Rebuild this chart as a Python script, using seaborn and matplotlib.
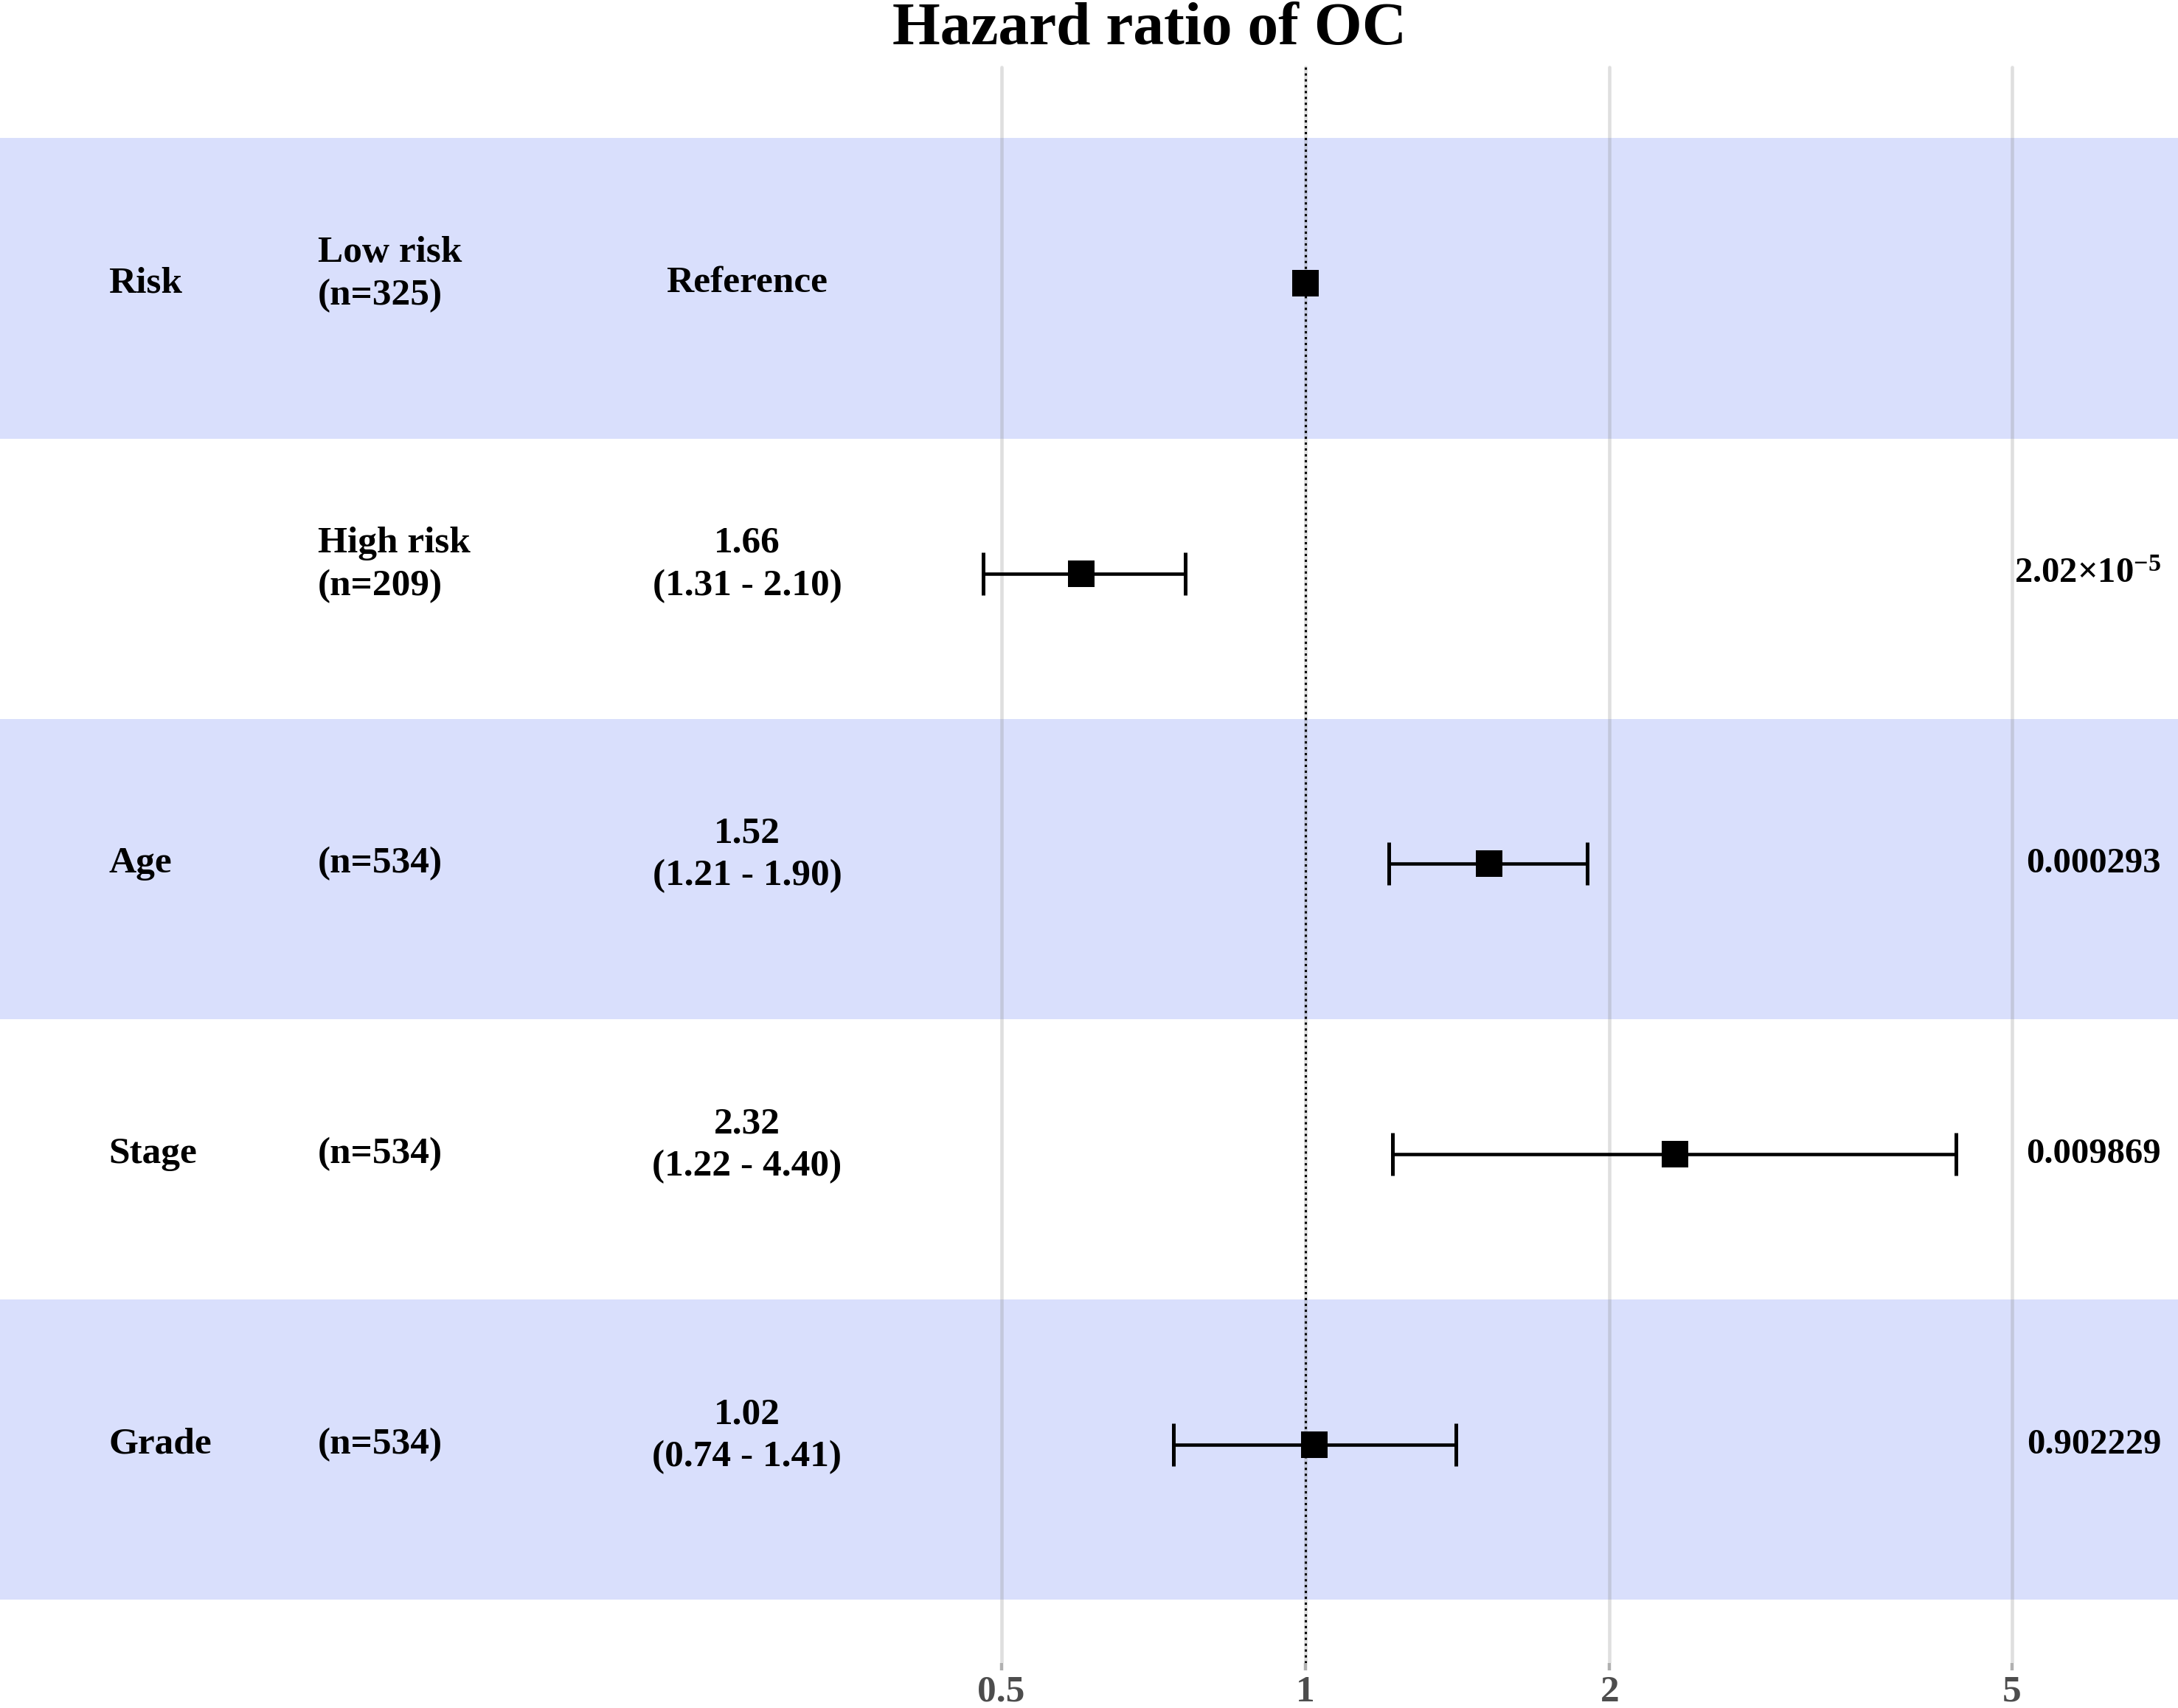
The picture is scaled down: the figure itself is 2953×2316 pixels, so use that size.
import numpy as np
import pandas as pd
import matplotlib
matplotlib.use("Agg")
import matplotlib.pyplot as plt
import seaborn as sns

# ---------------- data ----------------
variables = ["Risk", "", "Age", "Stage", "Grade"]
groups = ["Low risk\n(n=325)", "High risk\n(n=209)", "(n=534)", "(n=534)", "(n=534)"]
hr_text = ["Reference", "1.66\n(1.31 - 2.10)", "1.52\n(1.21 - 1.90)",
           "2.32\n(1.22 - 4.40)", "1.02\n(0.74 - 1.41)"]
p_text = ["", r"2.02×10$^{\mathbf{-5}}$", "0.000293", "0.009869", "0.902229"]
# plotted positions
hr_plot = [1.00, 0.60, 1.52, 2.32, 1.02]
ci_low = [np.nan, 0.48, 1.21, 1.22, 0.74]
ci_high = [np.nan, 0.76, 1.90, 4.40, 1.41]
xticks = [0.5, 1, 2, 5]
xtick_labels = ["0.5", "1", "2", "5"]
title = "Hazard ratio of OC"

# ---------------- style ----------------
sns.set_theme(style="white")
plt.rcParams["font.family"] = ["Liberation Serif", "DejaVu Serif"]
plt.rcParams["font.weight"] = "bold"
plt.rcParams["text.color"] = "black"
plt.rcParams["mathtext.fontset"] = "custom"
plt.rcParams["mathtext.rm"] = "Liberation Serif:bold"
plt.rcParams["mathtext.bf"] = "Liberation Serif:bold"
plt.rcParams["mathtext.it"] = "Liberation Serif:bold"

W, H = 2953, 2316
DPI = 100
fig = plt.figure(figsize=(W / DPI, H / DPI), dpi=DPI)
ax_bottom_px = 2255
ax = fig.add_axes([0, 1 - ax_bottom_px / H, 1, ax_bottom_px / H])

df = pd.DataFrame({"row": np.arange(len(variables)), "hr": hr_plot,
                   "lo": ci_low, "hi": ci_high})

ax.set_xscale("log")
# x: 1 at 1770 px, 412.4 px per doubling
px1, per2 = 1770.0, 412.4
ax.set_xlim(2 ** (-px1 / per2), 2 ** ((W - px1) / per2))
row0, step = 384.0, 393.7
ax.set_ylim((ax_bottom_px - row0) / step, -row0 / step)

band_color = "#d9dffc"
for i in range(0, len(variables), 2):
    ax.axhspan(i - 0.5, i + 0.535, color=band_color, lw=0, zorder=0)

grid_top = (ax_bottom_px - 91) / ax_bottom_px
for t in xticks:
    ax.axvline(t, ymin=0, ymax=grid_top, color="#808080", alpha=0.25, lw=3.3, zorder=1)
ax.axvline(1, ymin=0, ymax=grid_top, color="black", lw=2.2, ls=(0, (1, 1.6)), zorder=2)

# error bars
m = df["lo"].notna()
sub = df[m]
ax.errorbar(sub["hr"], sub["row"],
            xerr=[sub["hr"] - sub["lo"], sub["hi"] - sub["hr"]],
            fmt="none", ecolor="black", elinewidth=3.3, capsize=21, capthick=3.6, zorder=3)
sns.scatterplot(data=df, x="hr", y="row", marker="s", s=640, color="black",
                linewidth=0, ax=ax, zorder=4, legend=False)

# text columns
tr = ax.get_yaxis_transform()
fs = 37
ls = 1.33
for i in range(len(variables)):
    two = "\n" in groups[i]
    ax.text(147 / W, i, variables[i], transform=tr, ha="left", va="center",
            fontsize=fs, fontweight="bold", color="black")
    ax.text(431 / W, i - (0.03 if two else 0), groups[i], transform=tr, ha="left",
            va="center", fontsize=fs, fontweight="bold", linespacing=ls, color="black")
    two = "\n" in hr_text[i]
    ax.text(1013 / W, i - (0.03 if two else 0), hr_text[i], transform=tr, ha="center",
            va="center", fontsize=fs, fontweight="bold", linespacing=ls, color="black")
    if p_text[i]:
        ax.text(2930 / W, i, p_text[i], transform=tr, ha="right", va="center",
                fontsize=35, fontweight="bold", color="black")

ax.set_xticks(xticks)
ax.set_xticklabels(xtick_labels)
ax.xaxis.set_minor_locator(matplotlib.ticker.NullLocator())
ax.tick_params(axis="x", which="major", direction="out", length=7.2, width=3.2,
               color="#b0b0b0", pad=5, labelsize=37, labelcolor="#4d4d4d", bottom=True)
for lab in ax.get_xticklabels():
    lab.set_fontweight("bold")
ax.set_yticks([])
ax.set_xlabel("")
ax.set_ylabel("")
for s in ax.spines.values():
    s.set_visible(False)

fig.text(1559 / W, 1 - 60 / H, title, ha="center", va="baseline", fontsize=60,
         fontweight="bold", color="black")

fig.savefig("out.png", dpi=DPI)
